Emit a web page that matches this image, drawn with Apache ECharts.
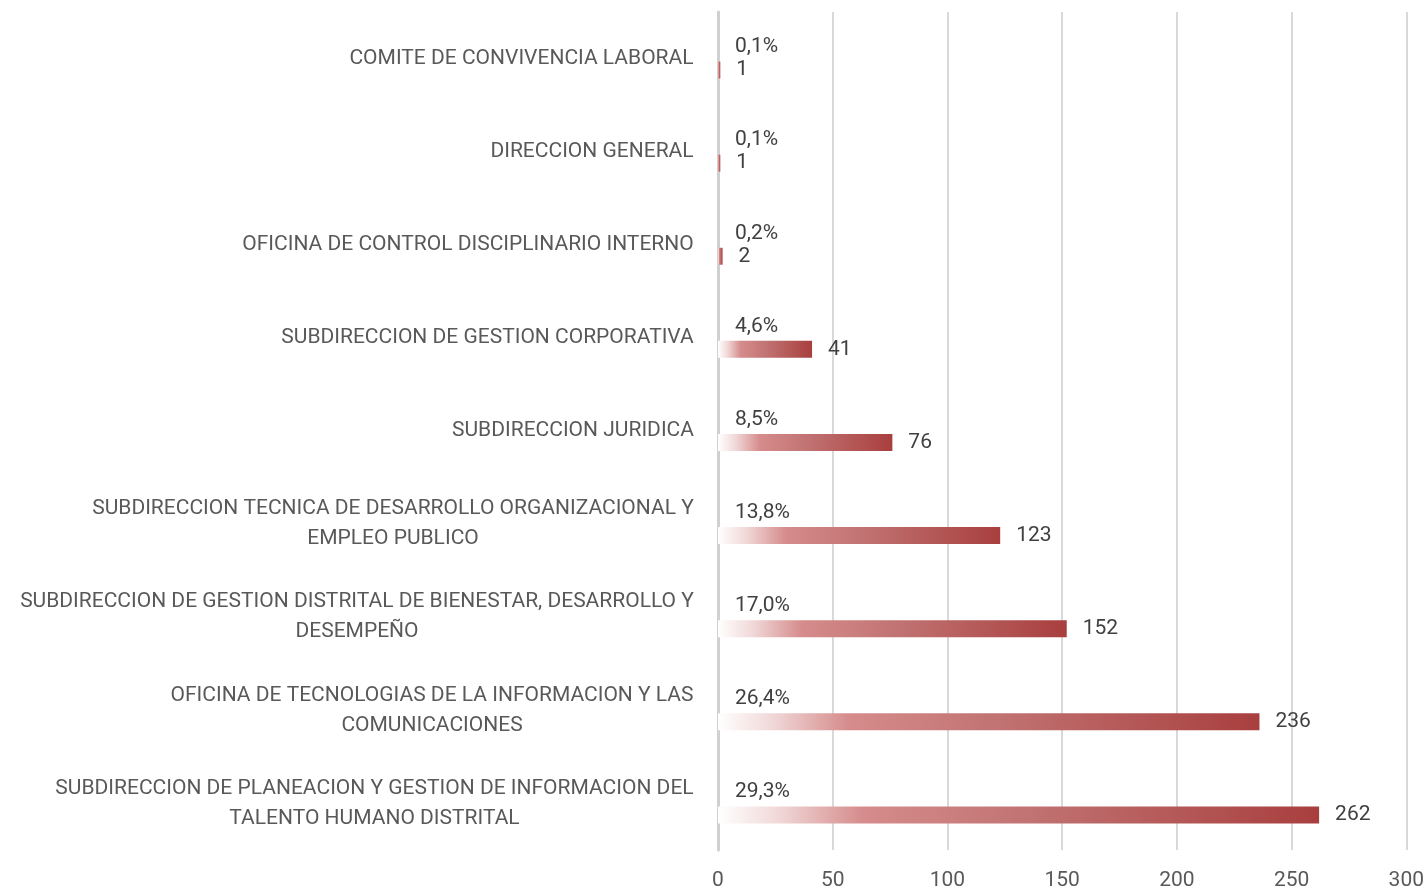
<!DOCTYPE html>
<html lang="es">
<head>
  <meta charset="utf-8">
  <title>Distribución por dependencia</title>
  <script src="https://cdn.jsdelivr.net/npm/echarts@6/dist/echarts.min.js"></script>
  <style>
    * { margin: 0; padding: 0; }
    #chart { width: 1427px; height: 891px; }
  </style>
</head>
<body>
  <div id="chart"></div>

  <script>
    var categories = [
      'COMITE DE CONVIVENCIA LABORAL',
      'DIRECCION GENERAL',
      'OFICINA DE CONTROL DISCIPLINARIO INTERNO',
      'SUBDIRECCION DE GESTION CORPORATIVA',
      'SUBDIRECCION JURIDICA',
      'SUBDIRECCION TECNICA DE DESARROLLO ORGANIZACIONAL Y\nEMPLEO PUBLICO',
      'SUBDIRECCION DE GESTION DISTRITAL DE BIENESTAR, DESARROLLO Y\nDESEMPEÑO',
      'OFICINA DE TECNOLOGIAS DE LA INFORMACION Y LAS\nCOMUNICACIONES',
      'SUBDIRECCION DE PLANEACION Y GESTION DE INFORMACION DEL\nTALENTO HUMANO DISTRITAL'
    ];
    var counts = [1, 1, 2, 41, 76, 123, 152, 236, 262];
    var percentLabels = ['0,1%', '0,1%', '0,2%', '4,6%', '8,5%', '13,8%', '17,0%', '26,4%', '29,3%'];
    var xMin = 0, xMax = 300, xStep = 50;

    var FONT = "Roboto, 'Noto Sans', sans-serif";
    var LABEL_SIZE = 21;

    // measure each category so wrapped lines can be centred inside a right-aligned block
    var ctx = document.createElement('canvas').getContext('2d');
    ctx.font = LABEL_SIZE + 'px ' + FONT;
    var rich = {};
    categories.forEach(function (c, i) {
      var w = 0;
      c.split('\n').forEach(function (line) {
        w = Math.max(w, ctx.measureText(line).width);
      });
      rich['c' + i] = {
        width: Math.ceil(w) + 2,
        align: 'center',
        fontSize: LABEL_SIZE,
        lineHeight: 30,
        color: '#595959',
        fontFamily: FONT
      };
    });

    var barGradient = new echarts.graphic.LinearGradient(0, 0, 1, 0, [
      { offset: 0, color: 'rgba(255, 255, 255, 1)' },
      { offset: 0.1, color: '#f1d8d8' },
      { offset: 0.24, color: '#d68c8c' },
      { offset: 0.5, color: '#c27474' },
      { offset: 1, color: '#a83f3e' }
    ]);

    var myChart = echarts.init(document.getElementById('chart'), null, { renderer: 'canvas' });

    var option = {
      animation: false,
      backgroundColor: '#ffffff',
      grid: { left: 718, right: 19, top: 12, bottom: 41 },
      xAxis: {
        type: 'value',
        min: xMin,
        max: xMax,
        interval: xStep,
        axisLine: { show: false },
        axisTick: { show: false },
        splitLine: { lineStyle: { color: '#d9d9d9', width: 2 } },
        axisLabel: {
          color: '#595959',
          fontSize: LABEL_SIZE,
          fontFamily: FONT,
          margin: 20
        }
      },
      yAxis: {
        type: 'category',
        inverse: true,
        data: categories,
        axisTick: { show: false },
        axisLine: { lineStyle: { color: '#d0d0d0', width: 3 } },
        axisLabel: {
          margin: 23,
          formatter: function (value, idx) {
            return '{c' + idx + '|' + value + '}';
          },
          rich: rich
        }
      },
      series: [
        {
          // invisible twin bar that carries the percentage label
          name: 'Porcentaje',
          type: 'bar',
          data: counts,
          barWidth: 17,
          barGap: '35%',
          silent: true,
          itemStyle: { color: 'rgba(0,0,0,0)' },
          label: {
            show: true,
            position: 'insideLeft',
            distance: 17,
            color: '#404040',
            fontSize: LABEL_SIZE,
            fontFamily: FONT,
            formatter: function (p) { return percentLabels[p.dataIndex]; }
          }
        },
        {
          name: 'Cantidad',
          type: 'bar',
          data: counts,
          barWidth: 17,
          barGap: '35%',
          itemStyle: { color: barGradient },
          label: {
            show: true,
            position: 'right',
            distance: 16,
            color: '#404040',
            fontSize: LABEL_SIZE,
            fontFamily: FONT
          }
        }
      ]
    };

    myChart.setOption(option);
    window.addEventListener('resize', myChart.resize);
  </script>
</body>
</html>
